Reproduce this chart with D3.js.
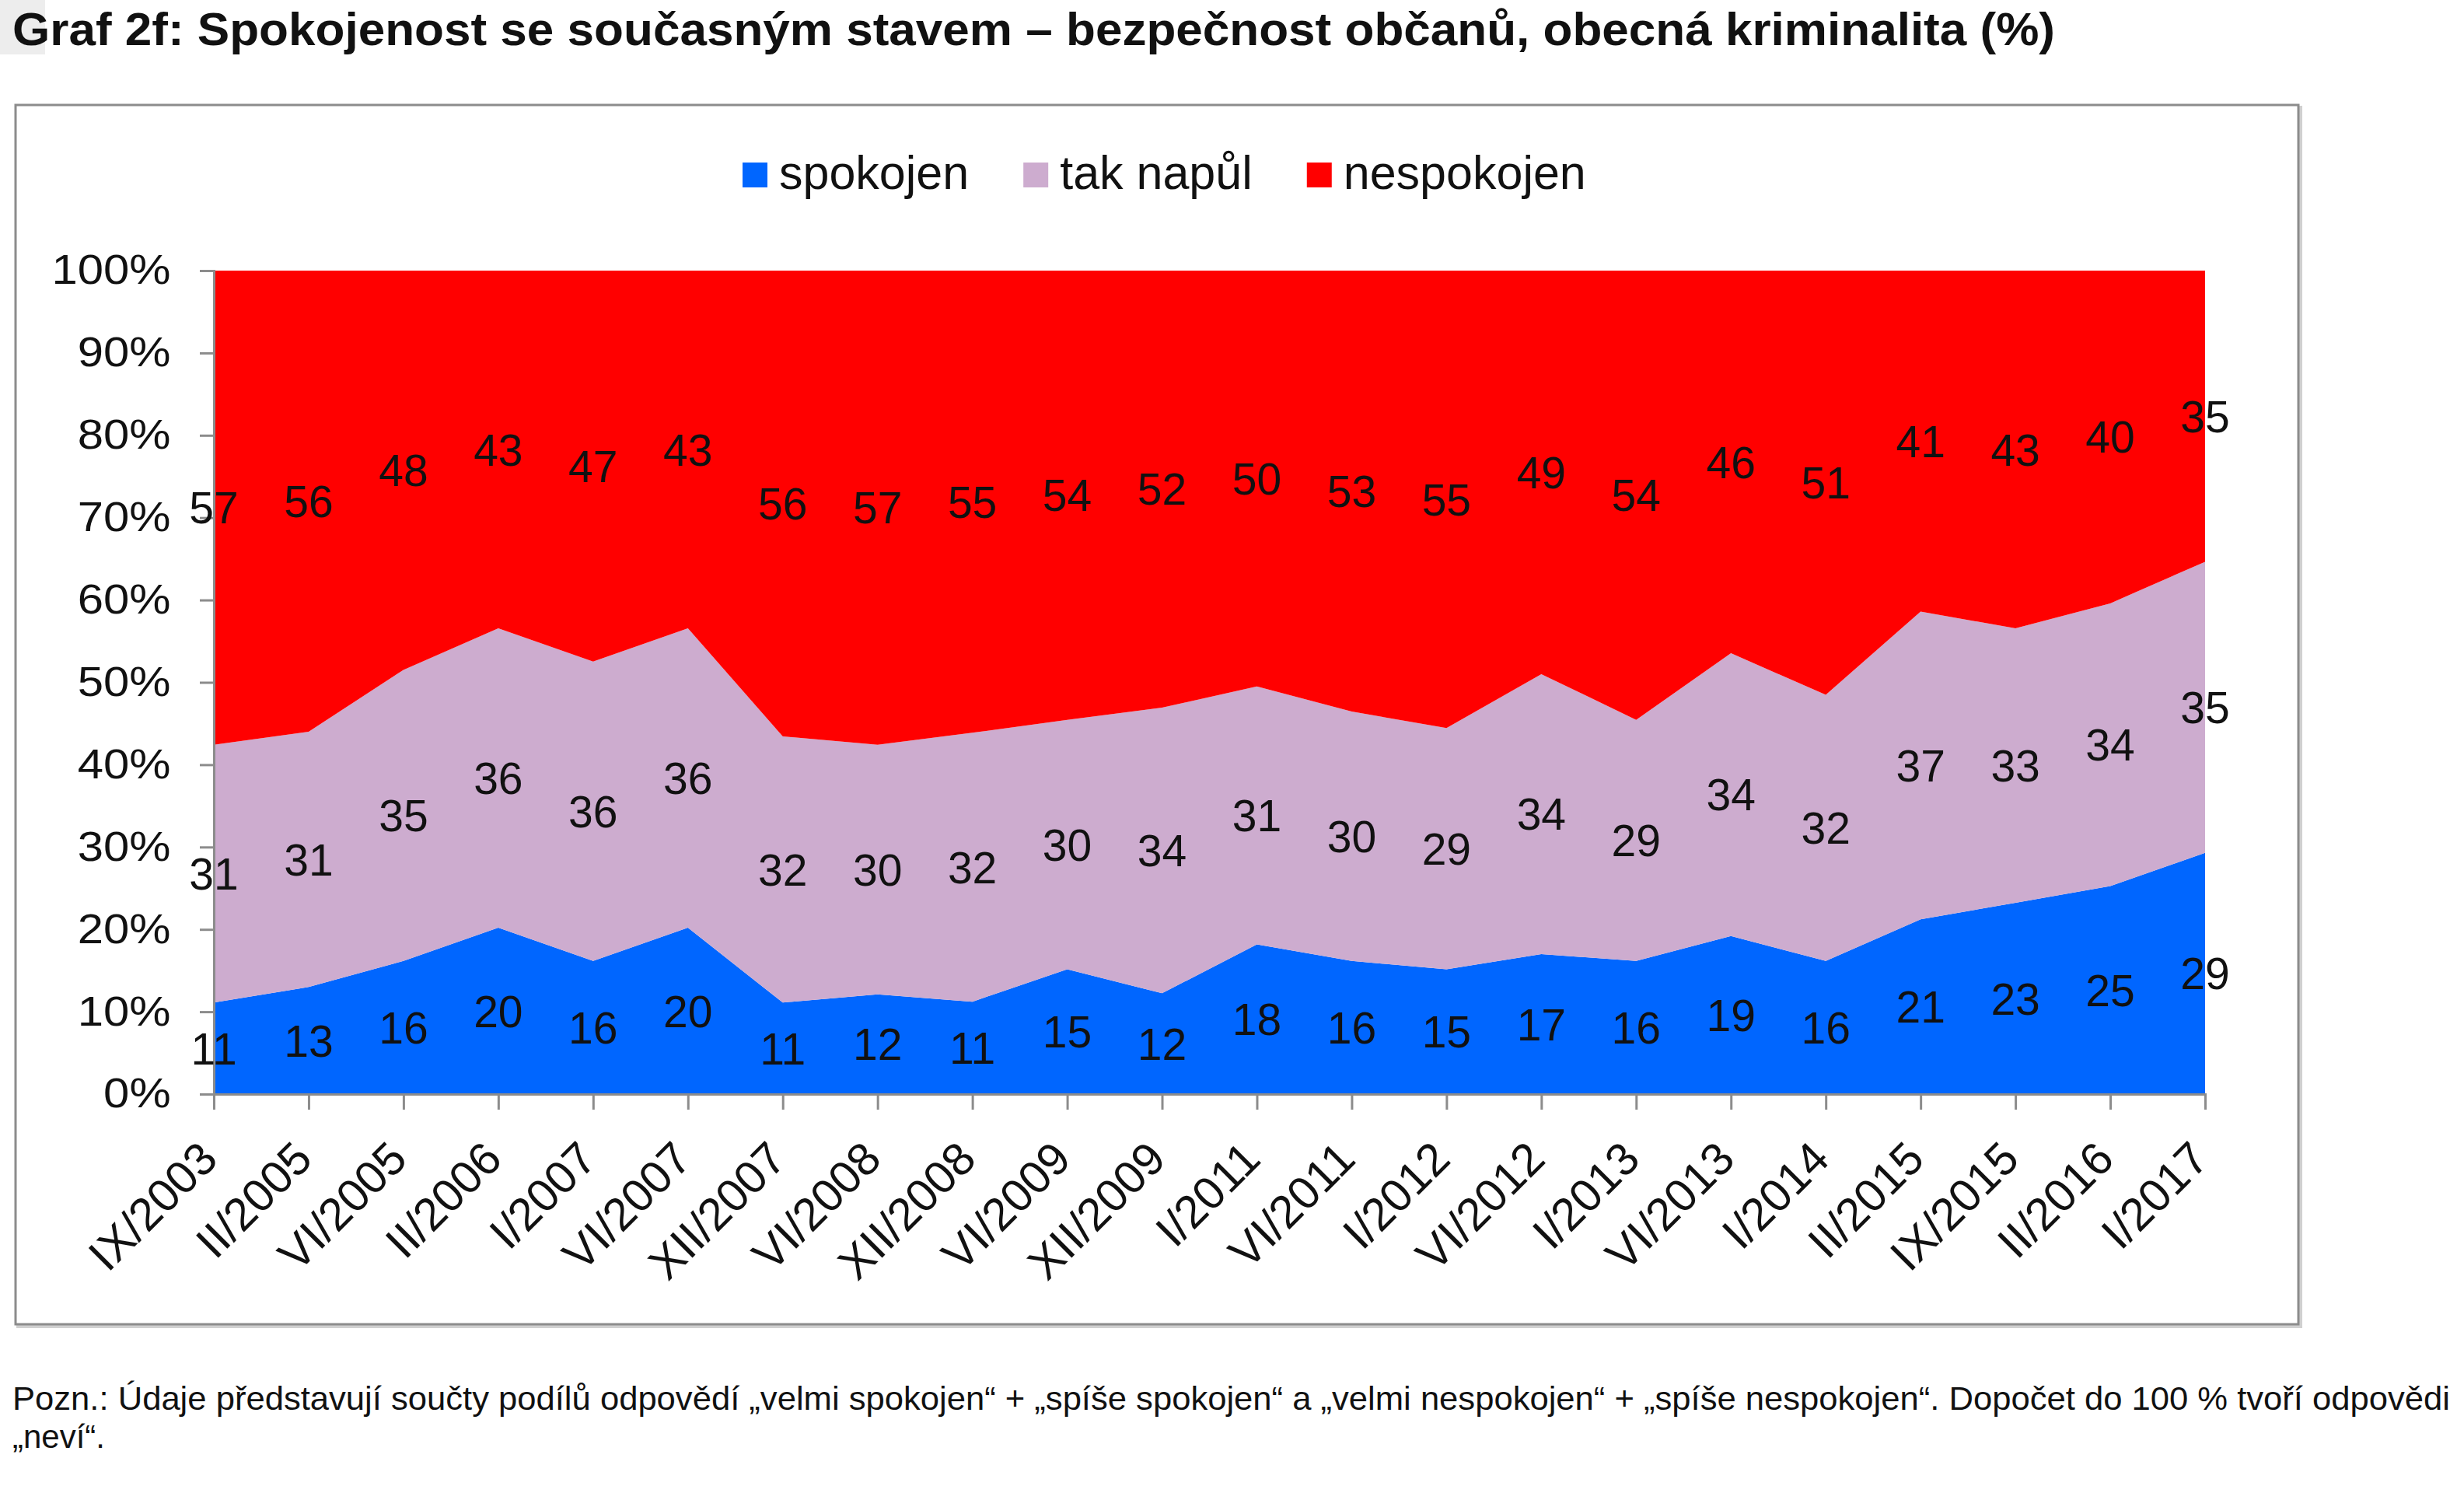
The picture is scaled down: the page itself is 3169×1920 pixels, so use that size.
<!DOCTYPE html>
<html>
<head>
<meta charset="utf-8">
<script src="https://cdn.jsdelivr.net/npm/d3@7"></script>
<style>
    body { margin: 0; background: #fff; }
    svg { display: block; }
    text { font-family: "Liberation Sans", Arial, sans-serif; }
</style>
</head>
<body>
<div id="chart"></div>
<script>
const periods = ["IX/2003", "II/2005", "VI/2005", "II/2006", "I/2007", "VI/2007", "XII/2007", "VI/2008",
    "XII/2008", "VI/2009", "XII/2009", "I/2011", "VI/2011", "I/2012", "VI/2012", "I/2013", "VI/2013",
    "I/2014", "II/2015", "IX/2015", "II/2016", "I/2017"];
const spokojen = [11, 13, 16, 20, 16, 20, 11, 12, 11, 15, 12, 18, 16, 15, 17, 16, 19, 16, 21, 23, 25, 29];
const takNapul = [31, 31, 35, 36, 36, 36, 32, 30, 32, 30, 34, 31, 30, 29, 34, 29, 34, 32, 37, 33, 34, 35];
const nespokojen = [57, 56, 48, 43, 47, 43, 56, 57, 55, 54, 52, 50, 53, 55, 49, 54, 46, 51, 41, 43, 40, 35];
const seriesNames = ["spokojen", "tak napůl", "nespokojen"];
const yTicks = [0, 0.1, 0.2, 0.3, 0.4, 0.5, 0.6, 0.7, 0.8, 0.9, 1];

const titleText = "Graf 2f: Spokojenost se současným stavem – bezpečnost občanů, obecná kriminalita (%)";
const noteLine1 = "Pozn.: Údaje představují součty podílů odpovědí „velmi spokojen“ + „spíše spokojen“ a „velmi nespokojen“ + „spíše nespokojen“. Dopočet do 100 % tvoří odpovědi";
const noteLine2 = "„neví“.";

const colors = { spokojen: "#0066ff", takNapul: "#cdaccf", nespokojen: "#ff0000", axis: "#8c8c8c" };
const W = 3169, H = 1920;
const plot = { left: 275, right: 2836, top: 348, bottom: 1407 };

const svg = d3.select("#chart").append("svg").attr("width", W).attr("height", H);

// light box behind the top-left corner of the title
svg.append("rect").attr("x", 0).attr("y", 0).attr("width", 58).attr("height", 70).attr("fill", "#ededed");

svg.append("text")
    .attr("x", 16).attr("y", 58)
    .attr("font-size", 60).attr("font-weight", "bold").attr("fill", "#111")
    .attr("textLength", 2627).attr("lengthAdjust", "spacingAndGlyphs")
    .text(titleText);

// chart frame with a soft shadow
svg.append("rect").attr("x", 23).attr("y", 138).attr("width", 2936).attr("height", 1568)
    .attr("fill", "none").attr("stroke", "#d0d0d0").attr("stroke-width", 4);
svg.append("rect").attr("x", 20).attr("y", 135).attr("width", 2936).attr("height", 1568)
    .attr("fill", "#fff").attr("stroke", colors.axis).attr("stroke-width", 3);

// legend
const legendKeys = ["spokojen", "takNapul", "nespokojen"];
let lx = 955;
legendKeys.forEach((k, i) => {
    svg.append("rect").attr("x", lx).attr("y", 209).attr("width", 32).attr("height", 32).attr("fill", colors[k]);
    const t = svg.append("text").attr("x", lx + 47).attr("y", 243)
        .attr("font-size", 61).attr("fill", "#111").text(seriesNames[i]);
    lx += 47 + t.node().getComputedTextLength() + 70;
});

const rows = periods.map((p, i) => ({
    period: p, spokojen: spokojen[i], takNapul: takNapul[i], nespokojen: nespokojen[i]
}));

const stack = d3.stack().keys(legendKeys).offset(d3.stackOffsetExpand);
const layers = stack(rows);

const x = d3.scalePoint().domain(periods).range([plot.left, plot.right]);
const y = d3.scaleLinear().domain([0, 1]).range([plot.bottom, plot.top]);

const area = d3.area()
    .x(d => x(d.data.period))
    .y0(d => y(d[0]))
    .y1(d => y(d[1]));

svg.append("g").selectAll("path")
    .data(layers)
    .enter().append("path")
    .attr("d", area)
    .attr("fill", d => colors[d.key]);

// y axis (labels a bit wider than tall, like the original)
const yStretch = 1.13;
const yAxis = svg.append("g")
    .attr("transform", `translate(${plot.left},0)`)
    .call(d3.axisLeft(y).tickValues(yTicks).tickFormat(d3.format(".0%")).tickSize(18).tickPadding(31));
yAxis.select(".domain").attr("stroke", colors.axis).attr("stroke-width", 3);
yAxis.selectAll(".tick line").attr("stroke", colors.axis).attr("stroke-width", 3);
yAxis.selectAll(".tick text").attr("font-size", 53).attr("fill", "#111")
    .attr("font-family", '"Liberation Sans", Arial, sans-serif')
    .attr("transform", `scale(${yStretch},1)`);

// x axis
const xAxis = svg.append("g")
    .attr("transform", `translate(0,${plot.bottom})`)
    .call(d3.axisBottom(x).tickSize(20).tickFormat(""));
xAxis.select(".domain").attr("stroke", colors.axis).attr("stroke-width", 3);
xAxis.selectAll(".tick line").attr("stroke", colors.axis).attr("stroke-width", 3);

svg.append("g").selectAll("text")
    .data(periods)
    .enter().append("text")
    .attr("transform", d => `translate(${x(d) - 7},${plot.bottom + 72}) rotate(-45)`)
    .attr("text-anchor", "end")
    .attr("dy", "0.35em")
    .attr("font-size", 59).attr("fill", "#111")
    .text(d => d);

// data labels in the middle of every band
const raw = { spokojen, takNapul, nespokojen };
layers.forEach(layer => {
    svg.append("g").selectAll("text")
        .data(layer)
        .enter().append("text")
        .attr("x", d => x(d.data.period))
        .attr("y", d => y((d[0] + d[1]) / 2))
        .attr("dy", "0.36em")
        .attr("text-anchor", "middle")
        .attr("font-size", 57).attr("fill", "#111")
        .text((d, i) => raw[layer.key][i]);
});

// footnote
svg.append("text").attr("x", 16).attr("y", 1813)
    .attr("font-size", 42).attr("fill", "#111")
    .attr("textLength", 3135).attr("lengthAdjust", "spacingAndGlyphs")
    .text(noteLine1);
svg.append("text").attr("x", 16).attr("y", 1862)
    .attr("font-size", 42).attr("fill", "#111")
    .text(noteLine2);
</script>
</body>
</html>
